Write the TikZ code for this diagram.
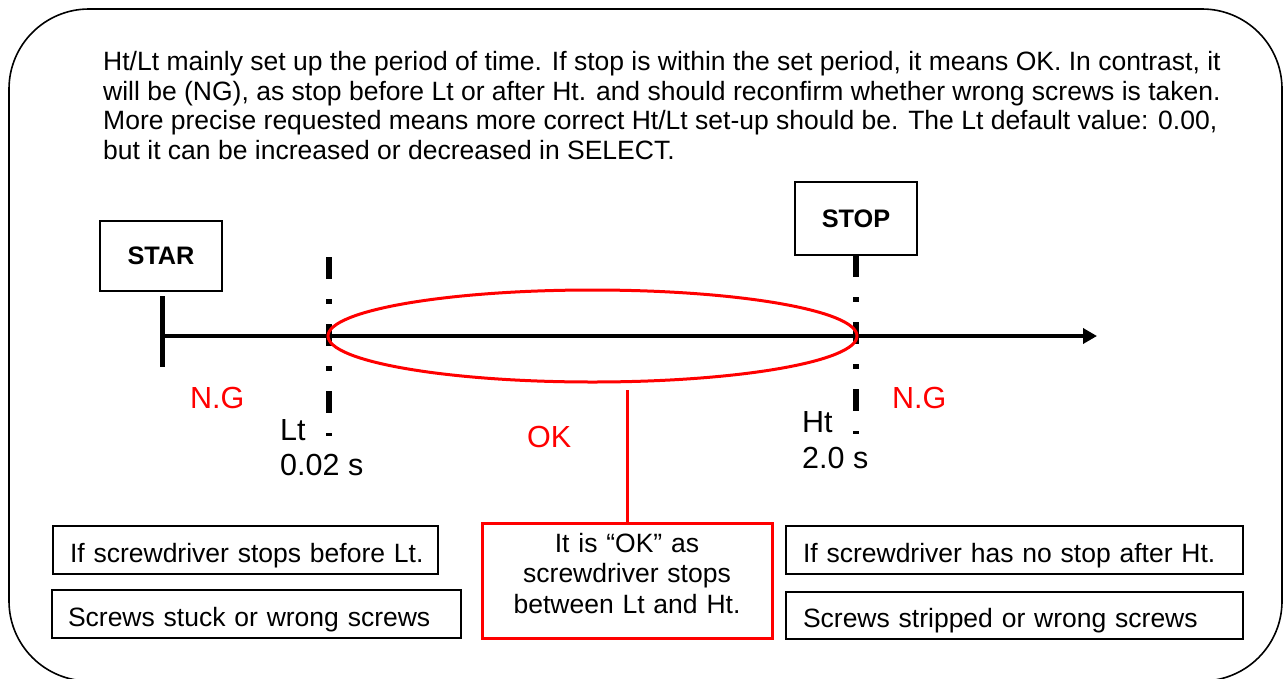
\documentclass[tikz,border=0pt]{standalone}
\usepackage{fontspec}
\setmainfont{Liberation Sans}
\usetikzlibrary{arrows.meta,shapes.geometric,calc}
\definecolor{okred}{RGB}{255,0,0}
\begin{document}
\begin{tikzpicture}[x=1pt,y=-1pt,
  frame/.style={draw, line width=1.6, rounded corners=80},
  lbox/.style={draw, line width=1.8, outer sep=0, inner ysep=0, align=left,
    text height=25, text depth=1, anchor=north west,
    font=\fontsize{26.5}{30.5}\selectfont},
  tbox/.style={draw, line width=2.2, outer sep=0, inner sep=0,
    font=\fontsize{25.3}{30}\selectfont\bfseries},
  okbox/.style={draw=okred, line width=3, outer sep=0, inner xsep=5, inner ysep=0,
    align=center, text width=280, minimum width=290, minimum height=115,
    anchor=north, font=\fontsize{26.5}{30.5}\selectfont},
  lab/.style={anchor=base west, inner sep=0, font=\fontsize{30.5}{35}\selectfont},
  redlab/.style={lab, text=okred},
  axis/.style={line width=4, -{Triangle[length=14,width=15]}},
  tick/.style={line width=5},
  dashdot/.style={line width=6, dash pattern=on 22 off 20 on 5 off 20},
  redline/.style={draw=okred, line width=3}]
\useasboundingbox (0,0) rectangle (1284,678);
% outer frame
\draw[frame] (9,9) rectangle (1282,681);
% description text
\node[anchor=north west, inner sep=0, align=left,
  font=\fontsize{26.5}{29.6}\selectfont] (desc) at (103,51)
  {Ht/Lt mainly set up the period of time. If stop is within the set period, it means OK. In contrast, it\\
   will be (NG), as stop before Lt or after Ht. and should reconfirm whether wrong screws is taken.\\
   More precise requested means more correct Ht/Lt set-up should be. The Lt default value: 0.00,\\
   but it can be increased or decreased in SELECT.};
% start / stop boxes
\node[tbox, minimum width=122, minimum height=70, anchor=north west] (star) at (100,221) {STAR};
\node[tbox, minimum width=122, minimum height=73, anchor=north west] (stop) at (795,182) {STOP};
% timeline
\coordinate (t0) at (162,336);
\coordinate (t1) at (1097,336);
\coordinate (tk0) at (162,296);
\coordinate (tk1) at (162,367);
\draw[tick] (tk0) -- (tk1);
\draw[axis] (t0) -- (t1);
% Lt and Ht markers
\coordinate (lt0) at (329,257);
\coordinate (lt1) at (329,436);
\draw[dashdot] (lt0) -- (lt1);
\coordinate (ht1) at (856,434);
\draw[dashdot] (stop.south) -- (ht1);
% OK ellipse
\node[ellipse, draw=okred, line width=3, inner sep=0, minimum width=529, minimum height=92] (ell) at (592.5,336) {};
% labels
\node[redlab] (ngl) at (190,408) {N.G};
\node[redlab] (ngr) at (892,408) {N.G};
\node[redlab] (ok) at (527,447) {OK};
\node[lab] (lt) at (280,440) {Lt};
\node[lab] (ltv) at (280,475) {0.02 s};
\node[lab] (ht) at (802,432) {Ht};
\node[lab] (htv) at (802,468) {2.0 s};
% OK box
\node[okbox] (okb) at (627,523) {It is “OK” as\\screwdriver stops\\between Lt and Ht.\rule[-15pt]{0pt}{1pt}};
\draw[redline] (okb.north) -- ($(okb.north |- ell.south)+(0,6)$);
% NG boxes
\node[lbox, inner xsep=17, text width=351, minimum height=48] (b1) at (53,526) {\rlap{If screwdriver stops before Lt.}};
\node[lbox, inner xsep=16, text width=377, minimum height=48] (b2) at (52,590) {\rlap{Screws stuck or wrong screws}};
\node[lbox, inner xsep=17, text width=423, minimum height=48] (b3) at (786,526) {\rlap{If screwdriver has no stop after Ht.}};
\node[lbox, inner xsep=17, text width=423, minimum height=47] (b4) at (786,592) {\rlap{Screws stripped or wrong screws}};
\end{tikzpicture}
\end{document}
